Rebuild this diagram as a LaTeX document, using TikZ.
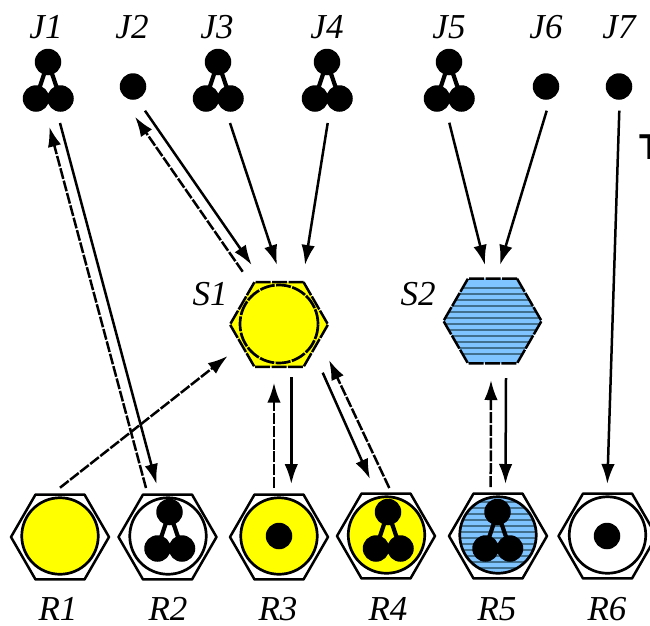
\documentclass[tikz,border=0pt]{standalone}
\usepackage{fontspec}
\setmainfont{Liberation Serif}
\newfontfamily\tfrag{Liberation Sans}
\usetikzlibrary{shapes.geometric,arrows.meta}
\definecolor{paleblue}{HTML}{80C4FF}
\definecolor{stripeblue}{HTML}{41708F}
\definecolor{puryellow}{RGB}{255,255,0}
\newcommand{\stripes}{\foreach \d in {-33.3,-27.3,...,33} \draw[stripe] ([shift={(-60,\d)}]path picture bounding box.center) -- ([shift={(60,\d)}]path picture bounding box.center);}
% three bound dots: name, x, y of the top dot
\newcommand{\trio}[3]{%
  \node[dot] (#1) at (#2,#3) {};
  \node[dot] (#1a) at (#2-12,#3+36.5) {};
  \node[dot] (#1b) at (#2+12.5,#3+36.5) {};
  \draw[bond] (#1.center) -- (#1a.center);
  \draw[bond] (#1.center) -- (#1b.center);
}
\newcommand{\conn}[5]{\draw[#1] ([shift={(#3)}]#2.center) -- ([shift={(#5)}]#4.center);}
\tikzset{
  dot/.style={circle,fill=black,minimum size=26.5pt,inner sep=0pt},
  bond/.style={line width=4.2pt},
  hexa/.style={regular polygon,regular polygon sides=6,minimum size=98pt,inner sep=0pt,outer sep=0pt,draw=black,line width=2.5pt,line join=round},
  ring/.style={circle,minimum size=76.5pt,inner sep=0pt,draw=black,line width=2.7pt},
  stripe/.style={solid,draw=stripeblue,line width=2.2pt},
  lab/.style={anchor=base,inner sep=0pt,font=\fontsize{35}{35}\selectfont\itshape},
  solidarrow/.style={line width=2.5pt,-{Latex[length=20pt,width=13.5pt]}},
  dasharrow/.style={line width=2.5pt,dash pattern=on 11pt off 1.8pt,-{Latex[length=20pt,width=13.5pt]}},
  dashborder/.style={dash pattern=on 15pt off 1.4pt},
}
\begin{document}
\begin{tikzpicture}[x=1pt,y=-1pt]
\useasboundingbox (0,0) rectangle (650,625);
\clip (0,0) rectangle (650,625);

% central hexagons
\node[hexa,dashborder,fill=puryellow] (S1) at (279,324.5) {};
\node[ring,dashborder,fill=puryellow,minimum size=78pt] (S1c) at (279,324) {};
\node[hexa,dashborder,fill=paleblue,path picture={\stripes}] (S2) at (492.5,321) {};

% bottom row
\node[hexa] (R1) at (60,537) {};
\node[hexa] (R2) at (167.5,537) {};
\node[hexa] (R3) at (279,537) {};
\node[hexa] (R4) at (386,536) {};
\node[hexa] (R5) at (498,536) {};
\node[hexa] (R6) at (607.5,536) {};
\node[ring,fill=puryellow] (Rc1) at (60,536) {};
\node[ring] (Rc2) at (168,536) {};
\node[ring,fill=puryellow] (Rc3) at (279,536) {};
\node[ring,fill=puryellow] (Rc4) at (386.5,535) {};
\node[ring,fill=paleblue,path picture={\stripes}] (Rc5) at (498,535) {};
\node[ring] (Rc6) at (607.5,535) {};
\trio{Rd2}{169.5}{512}
\node[dot] (Rd3) at (279,536) {};
\trio{Rd4}{388}{512}
\trio{Rd5}{497.5}{512}
\node[dot] (Rd6) at (607,536) {};

% top row
\trio{J1}{48}{62}
\node[dot] (J2) at (133,86.5) {};
\trio{J3}{218}{62}
\trio{J4}{327}{62}
\trio{J5}{449}{62}
\node[dot] (J6) at (546,86.5) {};
\node[dot] (J7) at (619,86.5) {};

% connectors
\conn{solidarrow}{J1}{12,61}{R2}{-11,-53}
\conn{dasharrow}{R2}{-21.5,-49}{J1}{1.3,64.7}
\conn{solidarrow}{J2}{12,24.2}{S1}{-27.3,-59.5}
\conn{dasharrow}{S1}{-36.3,-52.8}{J2}{2,30.2}
\conn{solidarrow}{J3}{12,61}{S1}{-2,-59.5}
\conn{solidarrow}{J4}{0.7,61}{S1}{26,-59.5}
\conn{solidarrow}{J5}{0.3,60.7}{S2}{-7.5,-56}
\conn{solidarrow}{J6}{0.7,24.2}{S2}{7.5,-56}
\conn{solidarrow}{J7}{0.3,24.2}{R6}{-0.2,-52}
\conn{dasharrow}{R1}{0,-49.3}{S1}{-51.3,31.5}
\conn{dasharrow}{R3}{-5,-49}{S1}{-5,58.2}
\conn{solidarrow}{S1}{12.3,52.8}{R3}{12.3,-53}
\conn{solidarrow}{S1}{43.7,48.2}{R4}{-16,-57}
\conn{dasharrow}{R4}{3.3,-48}{S1}{50,35.5}
\conn{dasharrow}{R5}{-7.3,-49}{S2}{-1.5,59}
\conn{solidarrow}{S2}{13.5,57}{R5}{7.5,-52}

% labels
\node[lab] (LJ1) at (46,38) {J1};
\node[lab] (LJ2) at (132,38) {J2};
\node[lab] (LJ3) at (217,38) {J3};
\node[lab] (LJ4) at (327,38) {J4};
\node[lab] (LJ5) at (449,38) {J5};
\node[lab] (LJ6) at (546,38) {J6};
\node[lab] (LJ7) at (619,38) {J7};
\node[lab] (LS1) at (210,305) {S1};
\node[lab] (LS2) at (418,305) {S2};
\node[lab] (LR1) at (58,620) {R1};
\node[lab] (LR2) at (168,620) {R2};
\node[lab] (LR3) at (278,620) {R3};
\node[lab] (LR4) at (388,620) {R4};
\node[lab] (LR5) at (497,620) {R5};
\node[lab] (LR6) at (607,620) {R6};
\node[anchor=base west,inner sep=0pt,font=\tfrag\bfseries\fontsize{36}{36}\selectfont] (Tfrag) at (639.3,159) {T};
\end{tikzpicture}
\end{document}
